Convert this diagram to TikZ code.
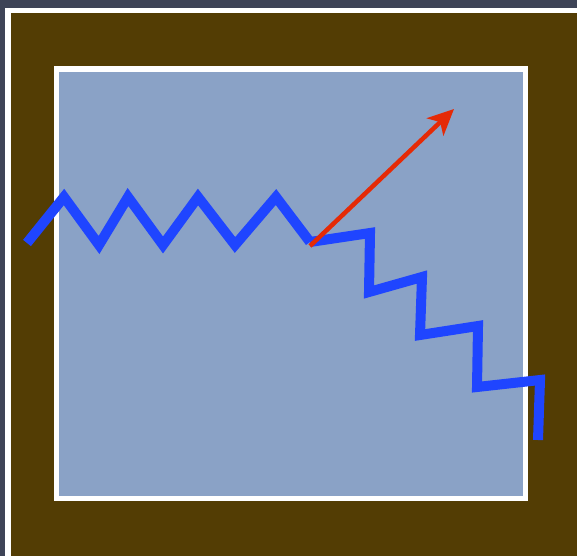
\documentclass[tikz,border=0pt]{standalone}
\usepackage{xcolor}
\usetikzlibrary{arrows.meta}
\definecolor{SlateBg}{RGB}{62,68,87}
\definecolor{FrameBrown}{RGB}{83,61,4}
\definecolor{PaneBlue}{RGB}{138,162,198}
\definecolor{WaveBlue}{RGB}{31,69,255}
\definecolor{RayRed}{RGB}{229,42,6}
\tikzset{
  >=latex,
  % zigzag waves
  wave/.style={WaveBlue,line width=10,line join=miter,miter limit=4},
  % outgoing ray
  ray/.style={-{Stealth[length=26,width=24,inset=7]},RayRed,line width=4.5},
  pane/.style={fill=PaneBlue,draw=white,line width=5.5}
}
\begin{document}
\begin{tikzpicture}[x=1pt,y=-1pt]
    \useasboundingbox (0,0) rectangle (577,556);
    \fill[SlateBg] (0,0) rectangle (577,556);
    \fill[white] (5,8) rectangle (577,556);
    \fill[FrameBrown] (11,13) rectangle (577,556);
    \draw[pane] (56.5,69) rectangle (525.5,498.5);
    % incoming wave
    \draw[wave] (27,243)--(64,197)--(99,245)--(128,197)--(163,245)--(198,197)--(235,245)--(276,197)--(310,242);
    % transmitted wave
    \draw[wave] (310,242)--(370,233)--(369,292)--(422,277)--(420,335)--(478,326)--(477,387)--(540,380)--(538,440);
    \coordinate (O) at (310,246);
    \coordinate (R) at (454,109);
    \draw[ray] (O)--(R);
  \end{tikzpicture}
\end{document}
